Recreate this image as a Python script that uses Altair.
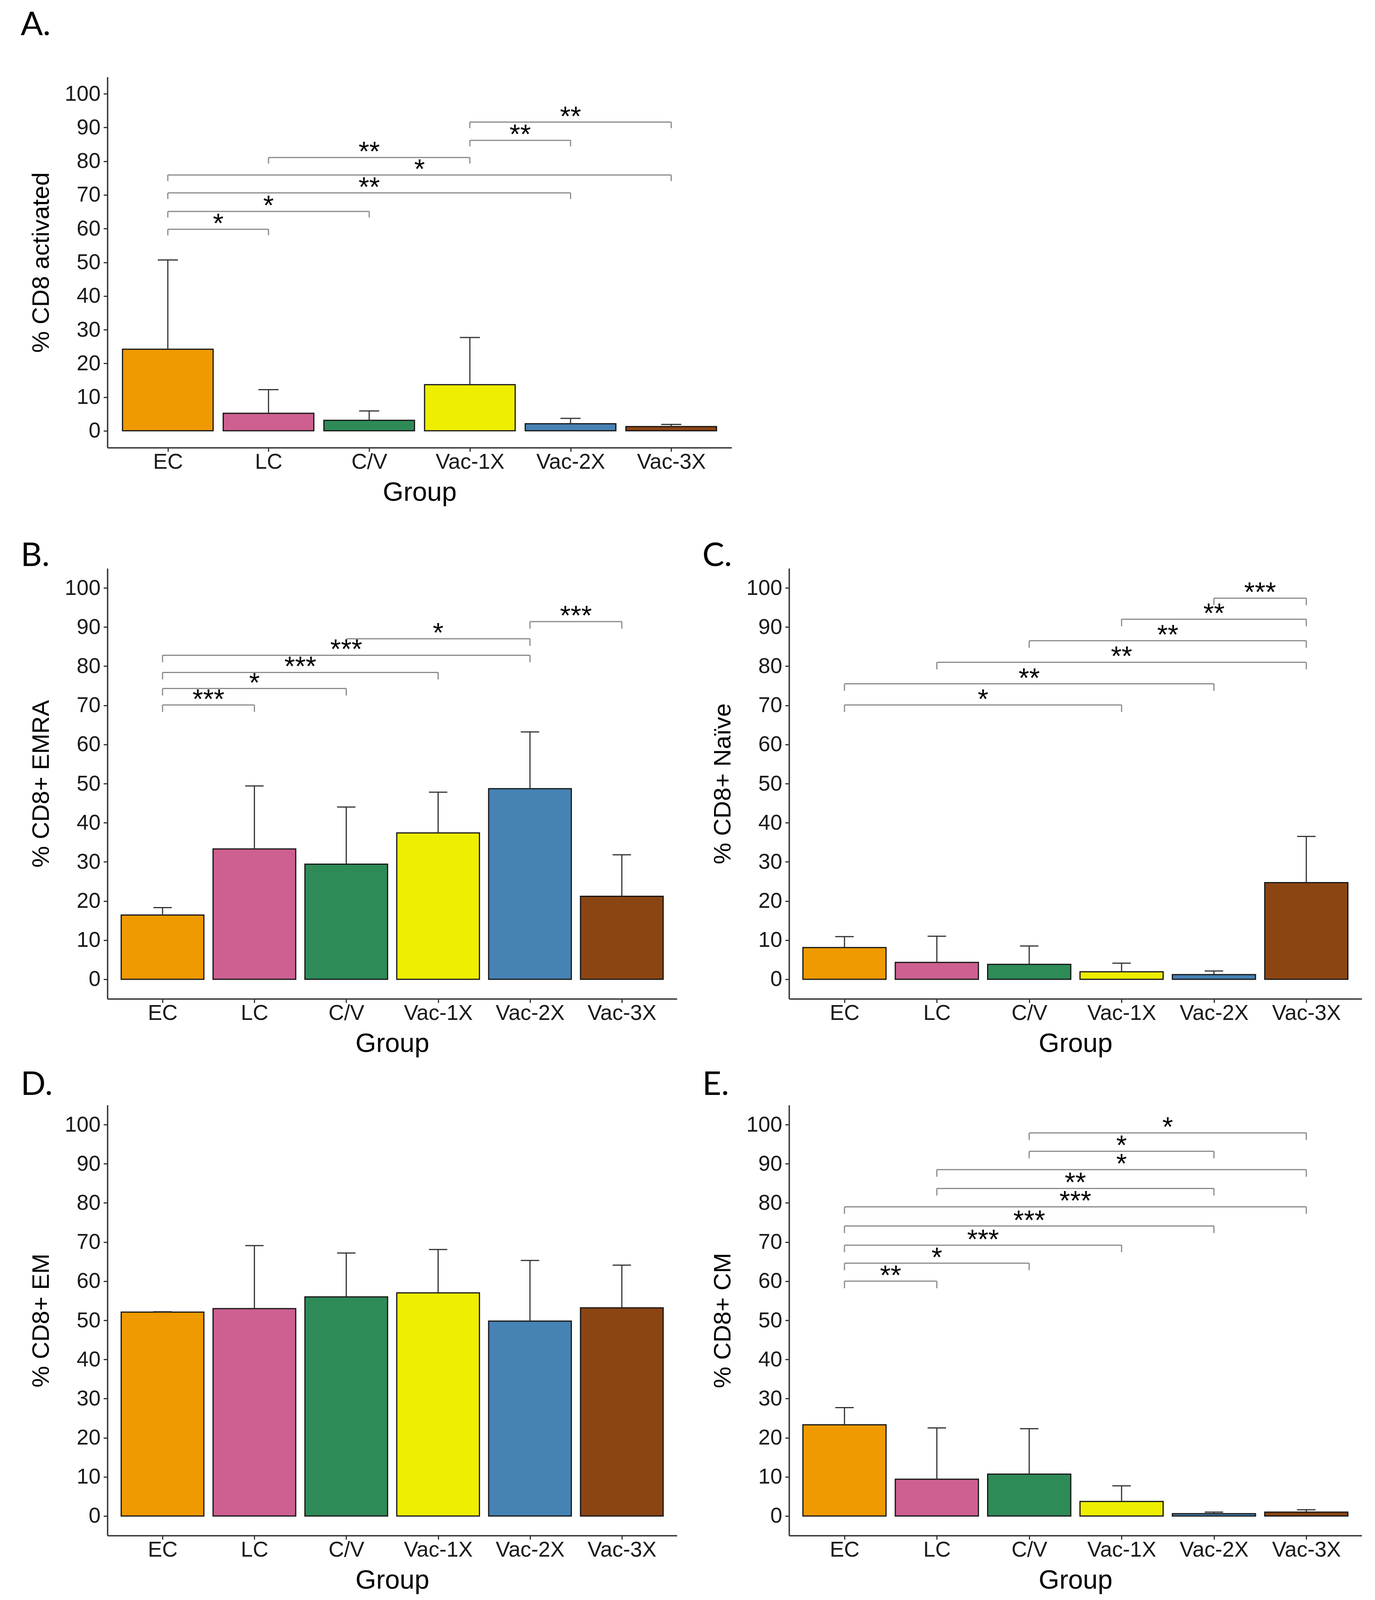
import json
import altair as alt
import pandas as pd

groups = ["EC", "LC", "C/V", "Vac-1X", "Vac-2X", "Vac-3X"]
colors = ["#EE9A00", "#CD6090", "#2E8B57", "#EEEE00", "#4682B4", "#8B4513"]

# Panel A: % CD8 activated
a_mean = [24.2, 5.2, 3.1, 13.7, 2.1, 1.25]
a_upper = [50.7, 12.2, 5.9, 27.7, 3.7, 1.9]
a_g1 = ["EC", "EC", "EC", "EC", "LC", "Vac-1X", "Vac-1X"]
a_g2 = ["LC", "C/V", "Vac-2X", "Vac-3X", "Vac-1X", "Vac-2X", "Vac-3X"]
a_y = [59.8, 65.1, 70.6, 75.9, 81.1, 86.2, 91.6]
a_lab = ["*", "*", "**", "*", "**", "**", "**"]

# Panel B: % CD8+ EMRA
b_mean = [16.4, 33.3, 29.4, 37.4, 48.7, 21.2]
b_upper = [18.3, 49.4, 44.0, 47.8, 63.2, 31.8]
b_g1 = ["EC", "EC", "EC", "EC", "C/V", "Vac-2X"]
b_g2 = ["LC", "C/V", "Vac-1X", "Vac-2X", "Vac-2X", "Vac-3X"]
b_y = [70.1, 74.3, 78.4, 82.8, 87.0, 91.4]
b_lab = ["***", "*", "***", "***", "*", "***"]

# Panel C: % CD8+ Naïve
c_mean = [8.1, 4.3, 3.8, 1.9, 1.2, 24.7]
c_upper = [10.9, 11.0, 8.5, 4.1, 2.1, 36.5]
c_g1 = ["EC", "EC", "LC", "C/V", "Vac-1X", "Vac-2X"]
c_g2 = ["Vac-1X", "Vac-2X", "Vac-3X", "Vac-3X", "Vac-3X", "Vac-3X"]
c_y = [70.1, 75.5, 81.0, 86.5, 92.0, 97.4]
c_lab = ["*", "**", "**", "**", "**", "***"]

# Panel D: % CD8+ EM
d_mean = [52.1, 53.0, 56.0, 57.0, 49.8, 53.2]
d_upper = [52.2, 69.1, 67.2, 68.1, 65.3, 64.1]

# Panel E: % CD8+ CM
e_mean = [23.3, 9.4, 10.7, 3.7, 0.6, 1.0]
e_upper = [27.7, 22.5, 22.3, 7.7, 1.0, 1.6]
e_g1 = ["EC", "EC", "EC", "EC", "EC", "LC", "LC", "C/V", "C/V"]
e_g2 = ["LC", "C/V", "Vac-1X", "Vac-2X", "Vac-3X", "Vac-2X", "Vac-3X", "Vac-2X", "Vac-3X"]
e_y = [60.0, 64.6, 69.2, 74.1, 79.0, 83.7, 88.5, 93.2, 97.9]
e_lab = ["**", "*", "***", "***", "***", "**", "*", "*", "*"]

y_ticks = list(range(0, 101, 10))

FONT = "Liberation Sans"
label_expr = json.dumps(groups) + "[datum.value]"


def panel(letter, ytitle, means, uppers, g1, g2, ys, labs, width, height, toff):
    xscale = alt.Scale(domain=[-0.6, 5.6], nice=False, zero=False)
    yscale = alt.Scale(domain=[-5, 105], nice=False, zero=False)
    xaxis = alt.Axis(values=list(range(6)), labelExpr=label_expr, title="Group",
                     grid=False, labelPadding=0, titlePadding=17)
    yaxis = alt.Axis(values=y_ticks, title=ytitle, grid=False,
                     labelPadding=8, titlePadding=28)

    def X(f):
        return alt.X(f, type="quantitative", scale=xscale, axis=xaxis)

    def Y(f):
        return alt.Y(f, type="quantitative", scale=yscale, axis=yaxis)

    bars = pd.DataFrame({"group": groups, "idx": list(range(len(groups))),
                         "mean": means, "upper": uppers})
    base = alt.Chart(bars)
    rect = base.transform_calculate(
        lo="datum.idx - 0.45", hi="datum.idx + 0.45", zero="0"
    ).mark_rect(stroke="#151515", strokeWidth=3).encode(
        x=X("lo"), x2="hi:Q", y=Y("zero"), y2="mean:Q",
        color=alt.Color("group:N", scale=alt.Scale(domain=groups, range=colors), legend=None),
    )
    err = base.mark_rule(color="#333333", strokeWidth=3).encode(
        x=X("idx"), y=Y("mean"), y2="upper:Q")
    cap = base.transform_calculate(
        clo="datum.idx - 0.1", chi="datum.idx + 0.1"
    ).mark_rule(color="#333333", strokeWidth=3).encode(
        x=X("clo"), x2="chi:Q", y=Y("upper"))
    layers = [rect, err, cap]

    if g1:
        br = pd.DataFrame({"i1": [groups.index(g) for g in g1],
                           "i2": [groups.index(g) for g in g2],
                           "y": ys, "label": labs})
        bb = alt.Chart(br).transform_calculate(
            ylo="datum.y - 1.8", mid="(datum.i1 + datum.i2) / 2")
        hline = bb.mark_rule(color="#8A8A8A", strokeWidth=3).encode(
            x=X("i1"), x2="i2:Q", y=Y("y"))
        tip1 = bb.mark_rule(color="#8A8A8A", strokeWidth=3).encode(
            x=X("i1"), y=Y("ylo"), y2="y:Q")
        tip2 = bb.mark_rule(color="#8A8A8A", strokeWidth=3).encode(
            x=X("i2"), y=Y("ylo"), y2="y:Q")
        txt = bb.mark_text(font=FONT, fontSize=70, color="black",
                           baseline="alphabetic", align="center", dy=9).encode(
            x=X("mid"), y=Y("y"), text="label:N")
        layers += [hline, tip1, tip2, txt]

    return alt.layer(*layers).properties(
        width=width, height=height,
        title=alt.TitleParams(text=letter, anchor="start", frame="group",
                              dx=-222, offset=toff, baseline="alphabetic",
                              font="Lato", fontSize=84, fontWeight="normal",
                              color="black"),
    )


pa = panel("A.", "% CD8 activated", a_mean, a_upper, a_g1, a_g2, a_y, a_lab, 1598, 949, 23)
pb = panel("B.", "% CD8+ EMRA", b_mean, b_upper, b_g1, b_g2, b_y, b_lab, 1458, 1102, -78)
pc = panel("C.", "% CD8+ Naïve", c_mean, c_upper, c_g1, c_g2, c_y, c_lab, 1466, 1102, -78)
pd_ = panel("D.", "% CD8+ EM", d_mean, d_upper, [], [], [], [], 1458, 1102, -58)
pe = panel("E.", "% CD8+ CM", e_mean, e_upper, e_g1, e_g2, e_y, e_lab, 1466, 1102, -58)

# empty cell beside panel A (sets the first row's height)
blank = alt.Chart(pd.DataFrame({"v": [0]})).mark_point(opacity=0).encode(
    x=alt.value(0), y=alt.value(0)
).properties(width=1, height=986)

chart = alt.concat(
    pa, blank, pb, pc, pd_, pe, columns=2,
    spacing={"row": 272, "column": 147}, bounds="flush",
).properties(
    padding={"left": 45, "top": 15, "right": 10, "bottom": 10}
).configure_view(stroke=None).configure_axis(
    domainColor="#333333", domainWidth=3.5, tickColor="#333333", tickWidth=3,
    tickSize=10, labelFont=FONT, labelFontSize=55, labelColor="#1a1a1a",
    titleFont=FONT, titleFontSize=68, titleColor="black", titleFontWeight="normal",
).configure_axisY(titleFontSize=62)

chart.save("out.html", embed_options={"renderer": "svg", "actions": False})
